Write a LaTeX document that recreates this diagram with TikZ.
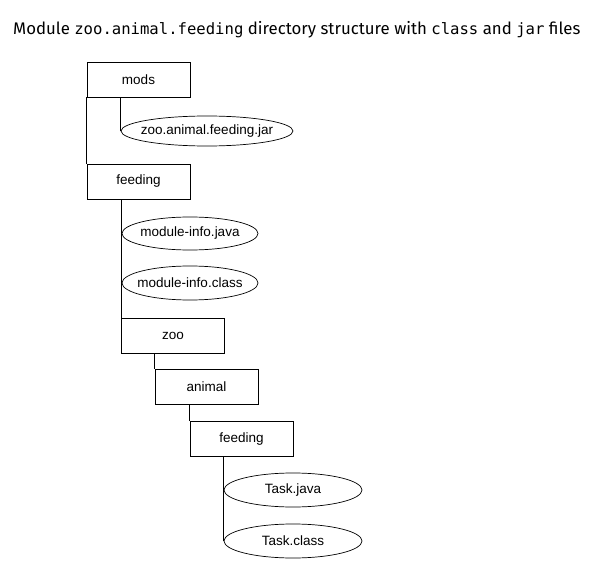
\documentclass[tikz,border=0pt]{standalone}
\usepackage{fontspec}
\setmainfont{Liberation Sans}
\newfontfamily\titlefont{Fira Sans}
\newfontfamily\titlemono{DejaVu Sans Mono}
\usetikzlibrary{shapes.geometric}
\begin{document}
\begin{tikzpicture}[x=1pt,y=-1pt,
  dir/.style={draw,line width=0.9pt,rectangle,minimum width=103pt,minimum height=35pt,inner sep=0pt,font=\fontsize{13.5}{15}\selectfont},
  file/.style={rectangle,inner sep=0pt,font=\fontsize{13.5}{15}\selectfont},
  oval/.style={line width=0.7pt},
  conn/.style={line width=0.9pt}]
\useasboundingbox (0,0) rectangle (590,570);
\newcommand\tmono[1]{{\titlemono\fontsize{15.6}{18}\selectfont #1}}
\node[anchor=west,inner sep=0pt,font=\titlefont\fontsize{16.8}{20}\selectfont] (title) at (13,30)
  {Module \tmono{zoo.animal.feeding} directory structure with \tmono{class} and \tmono{jar} files};
\node[dir] (mods) at (138.5,79.5) {mods};
\node[file,minimum width=172pt,minimum height=30pt] (jar) at (207,131) {zoo.animal.feeding.jar};
\node[dir] (feed1) at (138.5,181.5) {feeding};
\node[file,minimum width=136pt,minimum height=33pt] (mij) at (190,233.5) {module-info.java};
\node[file,minimum width=136pt,minimum height=34pt] (mic) at (190,283) {module-info.class};
\node[dir] (zoo) at (173,336) {zoo};
\node[dir] (animal) at (206.5,387) {animal};
\node[dir] (feed2) at (241.5,439) {feeding};
\node[file,minimum width=138pt,minimum height=34pt] (tj) at (293,490) {Task.java};
\node[file,minimum width=138pt,minimum height=34pt] (tc) at (293,541) {Task.class};
\draw[oval] (jar.center) ellipse [x radius=86pt, y radius=15pt];
\draw[oval] (mij.center) ellipse [x radius=68pt, y radius=16.5pt];
\draw[oval] (mic.center) ellipse [x radius=68pt, y radius=17pt];
\draw[oval] (tj.center) ellipse [x radius=69pt, y radius=17pt];
\draw[oval] (tc.center) ellipse [x radius=69pt, y radius=17pt];
\draw[conn] (mods.south west) -- (feed1.north west);
\draw[conn] (jar.west |- mods.south) -- (jar.west);
\draw[conn] (zoo.north west |- feed1.south) -- (zoo.north west);
\draw[conn] (animal.north west |- zoo.south) -- (animal.north west);
\draw[conn] (feed2.north west |- animal.south) -- (feed2.north west);
\draw[conn] (tc.west |- feed2.south) -- (tc.west);
\end{tikzpicture}
\end{document}
